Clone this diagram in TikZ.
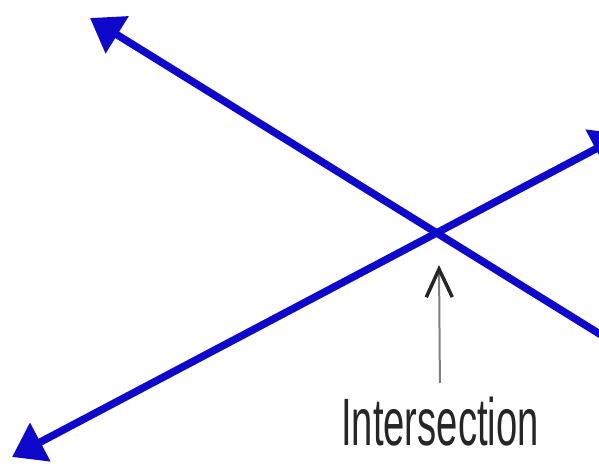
\documentclass[tikz,border=0pt]{standalone}
\usepackage{fontspec}
\setmainfont{Liberation Sans}
\usetikzlibrary{arrows.meta, positioning}
\definecolor{lineblue}{RGB}{14, 8, 205}

\begin{document}
\begin{tikzpicture} [
      x=1pt, y=-1pt,
      ray/.style={draw=lineblue, line width=7.5pt, {Triangle[length=32pt, width=42pt]}-{Triangle[length=32pt, width=42pt]}},
      pointer/.style={draw=black!50, line width=2pt, -{Straight Barb[length=28pt, width=26pt, line width=3.5pt, color=black!85]}, shorten <=10pt},
      note/.style={anchor=base, font=\fontsize{67}{70}\selectfont, xscale=0.57, text=black!85}
  ]
  \useasboundingbox (0,0) rectangle (599,471);
  \clip (0,0) rectangle (599,471);
  \fill[white] (0,0) rectangle (599,471);

  \coordinate (upleft) at (90,18);
  \coordinate (downright) at (640,359);
  \coordinate (downleft) at (12,457);
  \coordinate (upright) at (624,134);
  \coordinate (meet) at (439,265);
  \node[note] (label) at (440,445) {Intersection};

  \draw[ray] (upleft) -- (downright);
  \draw[ray] (downleft) -- (upright);
  \draw[pointer] (label.north) -- (meet);
\end{tikzpicture}
\end{document}
